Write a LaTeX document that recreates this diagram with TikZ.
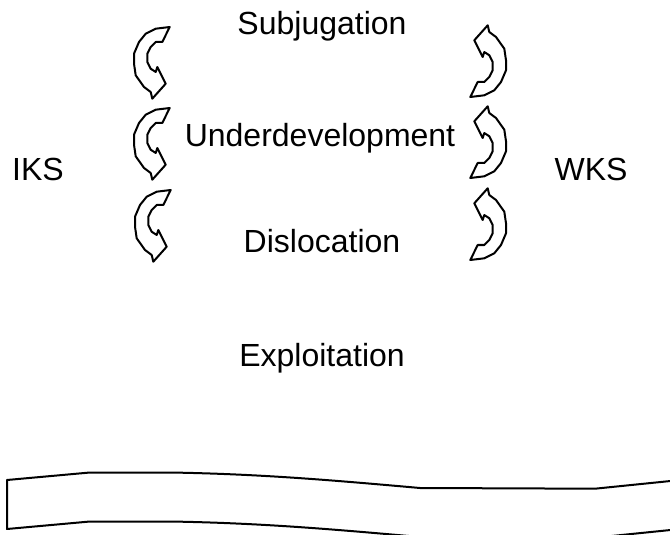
\documentclass[tikz,border=0pt]{standalone}
\usepackage{fontspec}
\setmainfont{Liberation Sans}

\begin{document}
\begin{tikzpicture}[x=0.5pt,y=-0.5pt,
  label/.style={anchor=base,inner sep=0pt,font=\fontsize{16}{19}\selectfont},
  curl/.style={line width=1pt,line join=round},
  loopy/.pic={\draw[curl] (17.7,-36) -- (10.3,-21) -- (3.7,-21) -- (-1.3,-16) -- (-4.7,-9.3)
    -- (-4.7,-1) -- (-1.3,5.7) -- (3.7,9) -- (5.3,4) -- (13.7,20.7) -- (0.3,35.7)
    -- (-1.3,29) -- (-8,24) -- (-16.3,12.3) -- (-18,0.7) -- (-18,-9.3) -- (-13,-21)
    -- (-6.3,-29.3) -- (3.7,-34.3) -- cycle;}]
\path[use as bounding box,clip] (0,0) rectangle (670,535);
\node[label] (subj) at (322,35) {Subjugation};
\node[label] (under) at (320,147) {Underdevelopment};
\node[label] (disl) at (322,252) {Dislocation};
\node[label] (expl) at (322,366) {Exploitation};
\node[label] (iks) at (38,181) {IKS};
\node[label] (wks) at (591,181) {WKS};
\pic at (152,63) {loopy};
\pic at (152,144) {loopy};
\pic at (153,226) {loopy};
\pic[rotate=180] at (488,61) {loopy};
\pic[rotate=180] at (488,142) {loopy};
\pic[rotate=180] at (488,224) {loopy};
\draw[line width=1pt,line join=round] (700,478) -- (595,488.7) -- (420,488)
  .. controls (330,480) and (260,474) .. (170,472.5) -- (90,472.5) -- (7,480)
  -- (7,529) -- (90,521.5) -- (170,521.5) .. controls (260,523) and (330,529) .. (420,537)
  -- (595,537.7) -- (700,527);
\end{tikzpicture}
\end{document}
